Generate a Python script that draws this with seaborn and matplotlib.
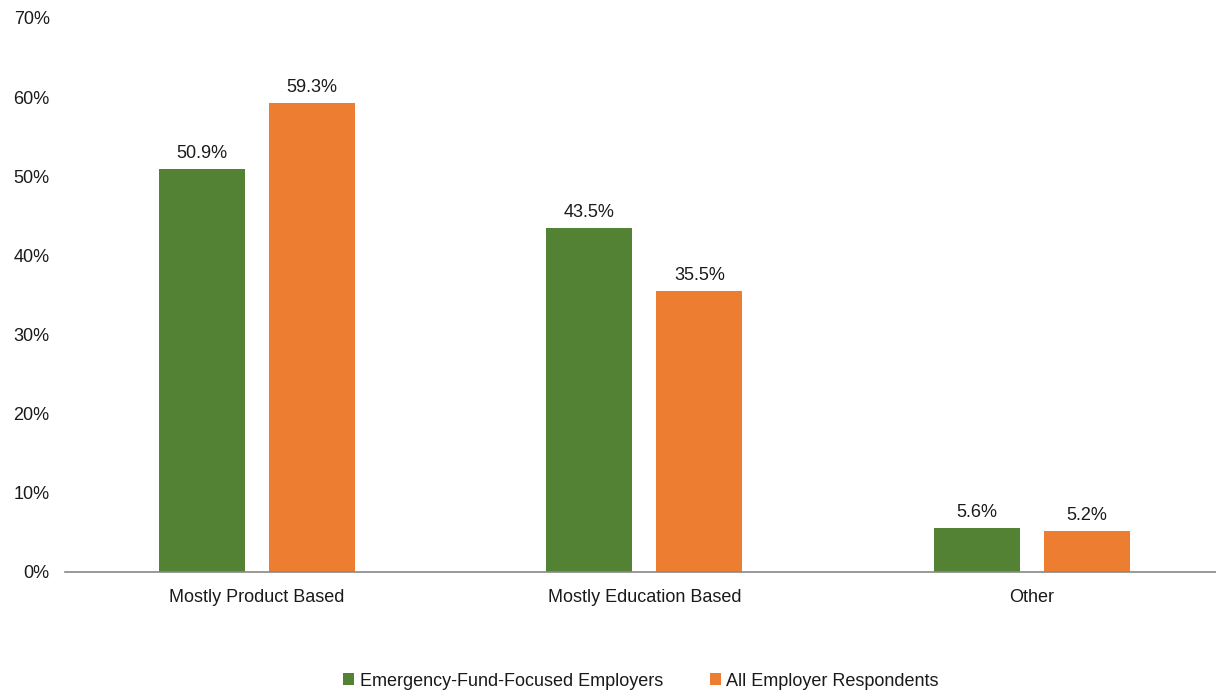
import matplotlib
matplotlib.use("Agg")
import matplotlib.pyplot as plt
import seaborn as sns
import pandas as pd
from matplotlib.patches import Patch

categories = ["Mostly Product Based", "Mostly Education Based", "Other"]
series_names = ["Emergency-Fund-Focused Employers", "All Employer Respondents"]
emergency = [50.9, 43.5, 5.6]
all_resp = [59.3, 35.5, 5.2]
yticks = [0, 10, 20, 30, 40, 50, 60, 70]
colors = ["#548235", "#ED7D31"]

sns.set_theme(style="white")
plt.rcParams['font.family'] = ['Liberation Sans', 'DejaVu Sans']

df = pd.DataFrame({
    "category": categories * 2,
    "series": [series_names[0]] * 3 + [series_names[1]] * 3,
    "value": emergency + all_resp,
})

fig = plt.figure(figsize=(12.16, 6.9), dpi=100)
ax = fig.add_axes([65/1216, (690-572)/690, (1216-65)/1216, (572-18)/690])

sns.barplot(data=df, x="category", y="value", hue="series", palette=colors,
            width=0.5677, gap=0.218, ax=ax, legend=False, saturation=1,
            linewidth=0, edgecolor="none")

for cont in ax.containers:
    ax.bar_label(cont, labels=[f"{v:.1f}%" for v in cont.datavalues],
                 padding=5, fontsize=13, color="#1a1a1a")

ax.set_ylim(0, 70)
ax.set_xlim(-0.4955, 2.475)
ax.set_yticks(yticks)
ax.set_yticklabels([f"{t}%" for t in yticks], fontsize=13, color="#1a1a1a")
ax.tick_params(axis="x", labelsize=13, colors="#1a1a1a", length=0, pad=12)
ax.tick_params(axis="y", length=0, pad=11)
ax.set_xlabel("")
ax.set_ylabel("")
for s in ["top", "right", "left"]:
    ax.spines[s].set_visible(False)
ax.spines["bottom"].set_color("#888888")
ax.spines["bottom"].set_linewidth(1.2)

handles = [Patch(facecolor=c, edgecolor="none") for c in colors]
fig.legend(handles, series_names, loc="center", bbox_to_anchor=(641/1216, 1 - 681/690),
           ncol=2, frameon=False, fontsize=13, handlelength=0.6, handleheight=0.6,
           handletextpad=0.3, columnspacing=2.6, labelcolor="#1a1a1a")

fig.savefig("out.png", dpi=100)
